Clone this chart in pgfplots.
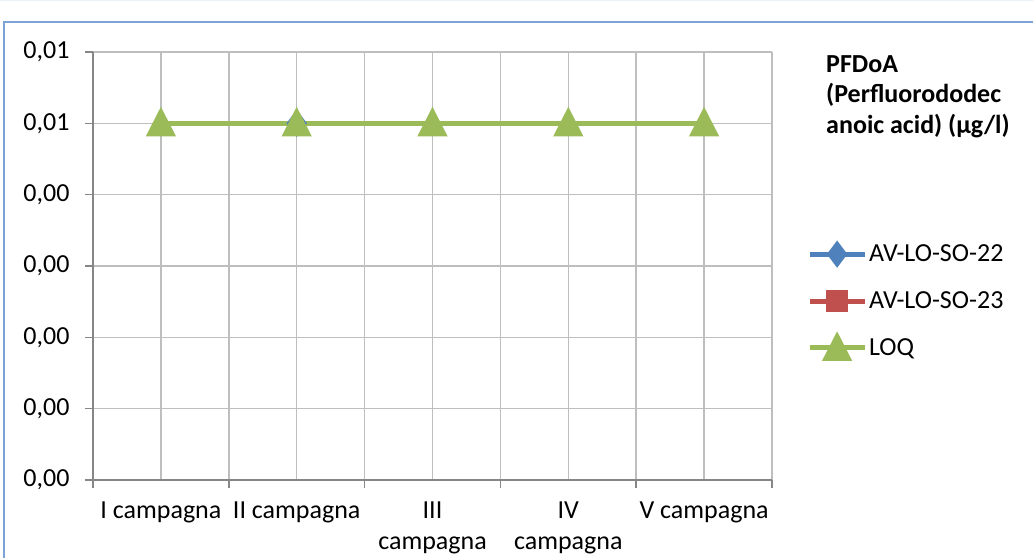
\documentclass[border=0pt]{standalone}
\usepackage{pgfplots}
\pgfplotsset{compat=1.18}
\usepackage{fontspec}
\setmainfont{Carlito}
\definecolor{blu}{HTML}{4F81BD}
\definecolor{rosso}{HTML}{C0504D}
\definecolor{verde}{HTML}{9BBB59}
\definecolor{griglia}{HTML}{BEBEBE}
\definecolor{asse}{HTML}{868686}
\definecolor{cornice}{HTML}{7CA2D6}
\begin{document}
\begin{tikzpicture}[x=1pt,y=1pt]
\useasboundingbox (0,0) rectangle (1033,557);
% cornice dell'area grafico (tagliata a destra e in basso)
\draw[cornice, line width=2pt] (4,-20) -- (4,535) -- (1050,535);
\draw[cornice!15, line width=1.5pt] (0,556.5) -- (1033,556.5);
\begin{axis}[
  at={(93pt,77pt)}, anchor=south west, scale only axis,
  width=679pt, height=428pt,
  xmin=-0.5, xmax=4.5, ymin=0, ymax=0.006,
  scaled y ticks=false,
  axis x line*=bottom, axis y line*=left,
  axis line style={asse, line width=1.5pt, -},
  font=\fontsize{26}{31.5}\selectfont,
  xtick={0,1,2,3,4},
  xticklabels={I campagna, II campagna, {III\\campagna}, {IV\\campagna}, V campagna},
  minor xtick={-0.5,0.5,1.5,2.5,3.5,4.5},
  ytick={0,0.001,0.002,0.003,0.004,0.005,0.006},
  yticklabels={{0,00},{0,00},{0,00},{0,00},{0,00},{0,01},{0,01}},
  tick align=outside,
  major tick length=8pt, minor tick length=8pt,
  tick style={asse, line width=1.5pt},
  major x tick style={draw=none},
  xmajorgrids, xminorgrids, ymajorgrids,
  major grid style={griglia, line width=1.5pt},
  minor grid style={griglia, line width=1.5pt},
  x tick label style={align=center, yshift=-10pt},
  y tick label style={xshift=-12pt},
  legend style={draw=none, fill=none, at={(1.047,0.559)}, anchor=north west,
    row sep=24.5pt, font=\fontsize{26}{31.5}\selectfont,
    nodes={inner sep=2pt}},
  legend cell align=left,
  legend image code/.code={%
    \draw[mark repeat=2,mark phase=2,#1] plot coordinates {(0pt,0pt) (27.5pt,0pt) (55pt,0pt)};},
]
\addplot[blu, line width=5pt, mark=diamond*, mark size=9.5pt, mark options={solid}]
  coordinates {(1,0.005)};
\addlegendentry{AV-LO-SO-22}
\addlegendimage{rosso, line width=5pt, mark=square*, mark size=8.5pt, mark options={solid}}
\addlegendentry{AV-LO-SO-23}
\addplot[verde, line width=5pt, mark=triangle*, mark size=12.7pt,
  mark options={solid, yshift=-3.3pt, yscale=1.13}]
  coordinates {(0,0.005) (1,0.005) (2,0.005) (3,0.005) (4,0.005)};
\addlegendentry{LOQ}
\end{axis}
\node[anchor=north west, inner sep=0pt, align=left,
  font=\bfseries\fontsize{26}{30.5}\selectfont] at (826,502)
  {PFDoA\\(Perfluorododec\\anoic acid) (µg/l)};
\end{tikzpicture}
\end{document}
